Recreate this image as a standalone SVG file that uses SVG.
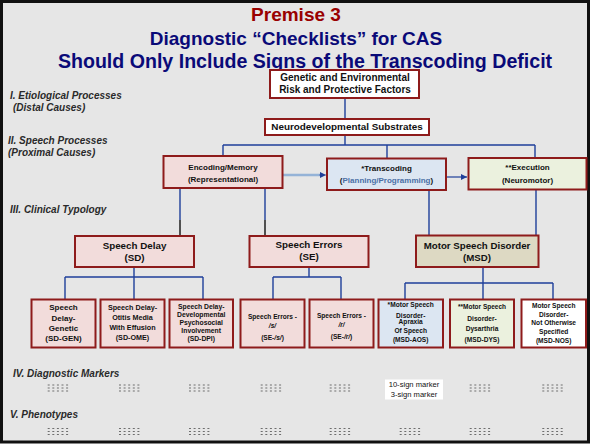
<svg xmlns="http://www.w3.org/2000/svg" width="591" height="445" viewBox="0 0 591 445">
<defs>
<style>
.box{stroke:#8e1b1b;stroke-width:2}
.pink{fill:#f2dcdb}.blue{fill:#dce6f2}.green{fill:#ebf1de}.tan{fill:#ddd9c3}.white{fill:#ffffff}
text{font-family:"Liberation Sans",Arial,sans-serif;text-anchor:middle;fill:#111}
.b{font-weight:bold}
.lbl{font-weight:bold;font-style:italic;font-size:10px;fill:#2a2a2a;text-anchor:start}
.title{font-weight:bold;fill:#0a0a78}
.conn{stroke:#1f3f9a;stroke-width:1.4;fill:none}
.blk{stroke:#111;stroke-width:1.4;fill:none}
.dots line{stroke:#6e6e6e;stroke-width:1;stroke-dasharray:2 2.6}
</style>
<marker id="ah" viewBox="0 0 6 6" refX="6" refY="3" markerWidth="6" markerHeight="6" markerUnits="userSpaceOnUse" orient="auto">
<path d="M0,0 L6,3 L0,6 z" fill="#1f3f9a"/>
</marker>
<g id="dots" class="dots">
<line x1="-11" y1="-3" x2="12" y2="-3"/>
<line x1="-11" y1="0" x2="12" y2="0"/>
<line x1="-11" y1="3" x2="12" y2="3"/>
</g>
</defs>

<rect x="0" y="0" width="591" height="445" fill="#ffffff"/>
<rect x="1.5" y="1.5" width="587" height="440.5" fill="#e6e6e6" stroke="#111" stroke-width="3"/>

<g id="title">
<text x="296" y="21" class="b" font-size="19" style="fill:#990000">Premise 3</text>
<text x="296" y="45" class="title" font-size="19">Diagnostic “Checklists” for CAS</text>
<text x="305" y="68" class="title" font-size="19.6">Should Only Include Signs of the Transcoding Deficit</text>
</g>

<g id="levels">
<text x="10" y="99" class="lbl">I. Etiological Processes</text>
<text x="13" y="111" class="lbl">(Distal Causes)</text>
<text x="8" y="144" class="lbl">II. Speech Processes</text>
<text x="8" y="156" class="lbl">(Proximal Causes)</text>
<text x="10" y="213" class="lbl">III. Clinical Typology</text>
<text x="13" y="377" class="lbl">IV. Diagnostic Markers</text>
<text x="10" y="418" class="lbl">V. Phenotypes</text>
</g>

<g id="connectors">
<path class="conn" d="M345 98V119M345 135V145M223 145H535M223 145V156M387 145V158M535 145V158"/>
<path class="conn" d="M180 189V220M265 189V220"/>
<path class="blk" d="M180 220V236M265 220V236"/>
<path class="conn" d="M429 190V235M536 189V235"/>
<path class="conn" d="M134 267V277M65 277H203M65 277V299M134 277V299M203 277V299"/>
<path class="conn" d="M309 267V277M273 277H341M273 277V299M341 277V299"/>
<path class="conn" d="M483 267V283M405 283H553M405 283V299M483 283V299M553 283V299"/>
<line x1="283" y1="175" x2="322" y2="175" stroke="#95b3d7" stroke-width="2.5"/>
<line x1="319" y1="175" x2="326" y2="175" stroke="#1f3f9a" stroke-width="0.5" marker-end="url(#ah)"/>
<line x1="446" y1="177" x2="467" y2="177" stroke="#1f3f9a" stroke-width="1.2" marker-end="url(#ah)"/>
</g>

<g id="genetic">
<rect x="270" y="70" width="149" height="28" class="box white"/>
<text x="345" y="81" class="b" font-size="10">Genetic and Environmental</text>
<text x="345" y="93" class="b" font-size="10">Risk and Protective Factors</text>
</g>
<g id="neuro">
<rect x="265" y="119" width="164" height="16" class="box white"/>
<text x="347" y="130.3" class="b" font-size="9.9">Neurodevelopmental Substrates</text>
</g>
<g id="encoding">
<rect x="163.5" y="156" width="119" height="32" class="box pink"/>
<text x="223" y="169.6" class="b" font-size="8">Encoding/Memory</text>
<text x="223" y="182" class="b" font-size="8">(Representational)</text>
</g>
<g id="transcoding">
<rect x="327" y="158.5" width="119" height="31.5" class="box blue"/>
<text x="386.5" y="171.2" class="b" font-size="8">*Transcoding</text>
<text x="386.5" y="183" class="b" font-size="8">(<tspan fill="#4a6fa5">Planning/Programming</tspan>)</text>
</g>
<g id="execution">
<rect x="468.5" y="158" width="118" height="31.5" class="box green"/>
<text x="527.5" y="170.2" class="b" font-size="8">**Execution</text>
<text x="527.5" y="183" class="b" font-size="8">(Neuromotor)</text>
</g>

<g id="sd">
<rect x="75" y="236" width="119" height="31" class="box pink"/>
<text x="134.5" y="249.2" class="b" font-size="9.8">Speech Delay</text>
<text x="134.5" y="261.2" class="b" font-size="9.8">(SD)</text>
</g>
<g id="se">
<rect x="249.5" y="236" width="119" height="31" class="box pink"/>
<text x="309" y="248" class="b" font-size="9.8">Speech Errors</text>
<text x="309" y="260.3" class="b" font-size="9.8">(SE)</text>
</g>
<g id="msd">
<rect x="416" y="235.5" width="122.5" height="31.5" class="box tan"/>
<text x="477" y="249.2" class="b" font-size="9.7">Motor Speech Disorder</text>
<text x="477" y="261.2" class="b" font-size="9.7">(MSD)</text>
</g>

<g id="sd-gen">
<rect x="31.5" y="299.5" width="64" height="48" class="box pink"/>
<text x="63.5" y="310.2" class="b" font-size="8">Speech</text>
<text x="63.5" y="320.6" class="b" font-size="8">Delay-</text>
<text x="63.5" y="330.6" class="b" font-size="8">Genetic</text>
<text x="63.5" y="340.6" class="b" font-size="8">(SD-GEN)</text>
</g>
<g id="sd-ome">
<rect x="100.5" y="299.5" width="64" height="48" class="box pink"/>
<text x="132.5" y="310.3" class="b" font-size="7.2">Speech Delay-</text>
<text x="132.5" y="320.3" class="b" font-size="7.2">Otitis Media</text>
<text x="132.5" y="329.9" class="b" font-size="7.2">With Effusion</text>
<text x="132.5" y="339.9" class="b" font-size="7.2">(SD-OME)</text>
</g>
<g id="sd-dpi">
<rect x="169.5" y="299.5" width="63.5" height="48" class="box pink"/>
<text x="201.2" y="309.1" class="b" font-size="6.8">Speech Delay-</text>
<text x="201.2" y="316.8" class="b" font-size="6.8">Developmental</text>
<text x="201.2" y="324.8" class="b" font-size="6.8">Psychosocial</text>
<text x="201.2" y="332.8" class="b" font-size="6.8">Involvement</text>
<text x="201.2" y="340.8" class="b" font-size="6.8">(SD-DPI)</text>
</g>
<g id="se-s">
<rect x="240.5" y="299.5" width="64" height="48" class="box pink"/>
<text x="272.5" y="319.2" class="b" font-size="6.6">Speech Errors -</text>
<text x="272.5" y="328.2" class="b" font-size="6.6" font-style="italic">/s/</text>
<text x="272.5" y="339.8" class="b" font-size="6.6">(SE-<tspan font-style="italic">/s/</tspan>)</text>
</g>
<g id="se-r">
<rect x="309.5" y="299.5" width="64" height="48" class="box pink"/>
<text x="341.5" y="318.2" class="b" font-size="6.6">Speech Errors -</text>
<text x="341.5" y="326.8" class="b" font-size="6.6" font-style="italic">/r/</text>
<text x="341.5" y="339.2" class="b" font-size="6.6">(SE-<tspan font-style="italic">/r/</tspan>)</text>
</g>
<g id="msd-aos">
<rect x="378.5" y="299.5" width="64.5" height="48" class="box blue"/>
<text x="410.7" y="306.8" class="b" font-size="6.6">*Motor Speech</text>
<text x="410.7" y="317.5" class="b" font-size="6.6">Disorder-</text>
<text x="410.7" y="324.2" class="b" font-size="6.6">Apraxia</text>
<text x="410.7" y="332.8" class="b" font-size="6.6">Of Speech</text>
<text x="410.7" y="341.8" class="b" font-size="6.6">(MSD-AOS)</text>
</g>
<g id="msd-dys">
<rect x="450" y="299.5" width="64" height="48" class="box green"/>
<text x="482" y="309.2" class="b" font-size="6.5">**Motor Speech</text>
<text x="482" y="320.8" class="b" font-size="6.6">Disorder-</text>
<text x="482" y="331.2" class="b" font-size="6.6">Dysarthria</text>
<text x="482" y="341.8" class="b" font-size="6.6">(MSD-DYS)</text>
</g>
<g id="msd-nos">
<rect x="521.5" y="299.5" width="64.5" height="48" class="box white"/>
<text x="553.7" y="308.2" class="b" font-size="6.6">Motor Speech</text>
<text x="553.7" y="317.2" class="b" font-size="6.6">Disorder-</text>
<text x="553.7" y="325.2" class="b" font-size="6.6">Not Otherwise</text>
<text x="553.7" y="334.2" class="b" font-size="6.6">Specified</text>
<text x="553.7" y="342.5" class="b" font-size="6.6">(MSD-NOS)</text>
</g>

<g id="markers">
<use href="#dots" x="58.7" y="388"/>
<use href="#dots" x="130" y="388"/>
<use href="#dots" x="200" y="388"/>
<use href="#dots" x="271.7" y="388"/>
<use href="#dots" x="340.7" y="388"/>
<use href="#dots" x="480.7" y="388"/>
<use href="#dots" x="553.3" y="388"/>
<rect x="385" y="379.5" width="58" height="20" fill="#ffffff"/>
<text x="414" y="386.6" font-size="7.6">10-sign marker</text>
<text x="414" y="397" font-size="7.6">3-sign marker</text>
</g>
<g id="phenotypes">
<use href="#dots" x="58.7" y="431.5"/>
<use href="#dots" x="130" y="431.5"/>
<use href="#dots" x="200" y="431.5"/>
<use href="#dots" x="271.7" y="431.5"/>
<use href="#dots" x="340.7" y="431.5"/>
<use href="#dots" x="410.7" y="431.5"/>
<use href="#dots" x="480.7" y="431.5"/>
<use href="#dots" x="553.3" y="431.5"/>
</g>
</svg>
